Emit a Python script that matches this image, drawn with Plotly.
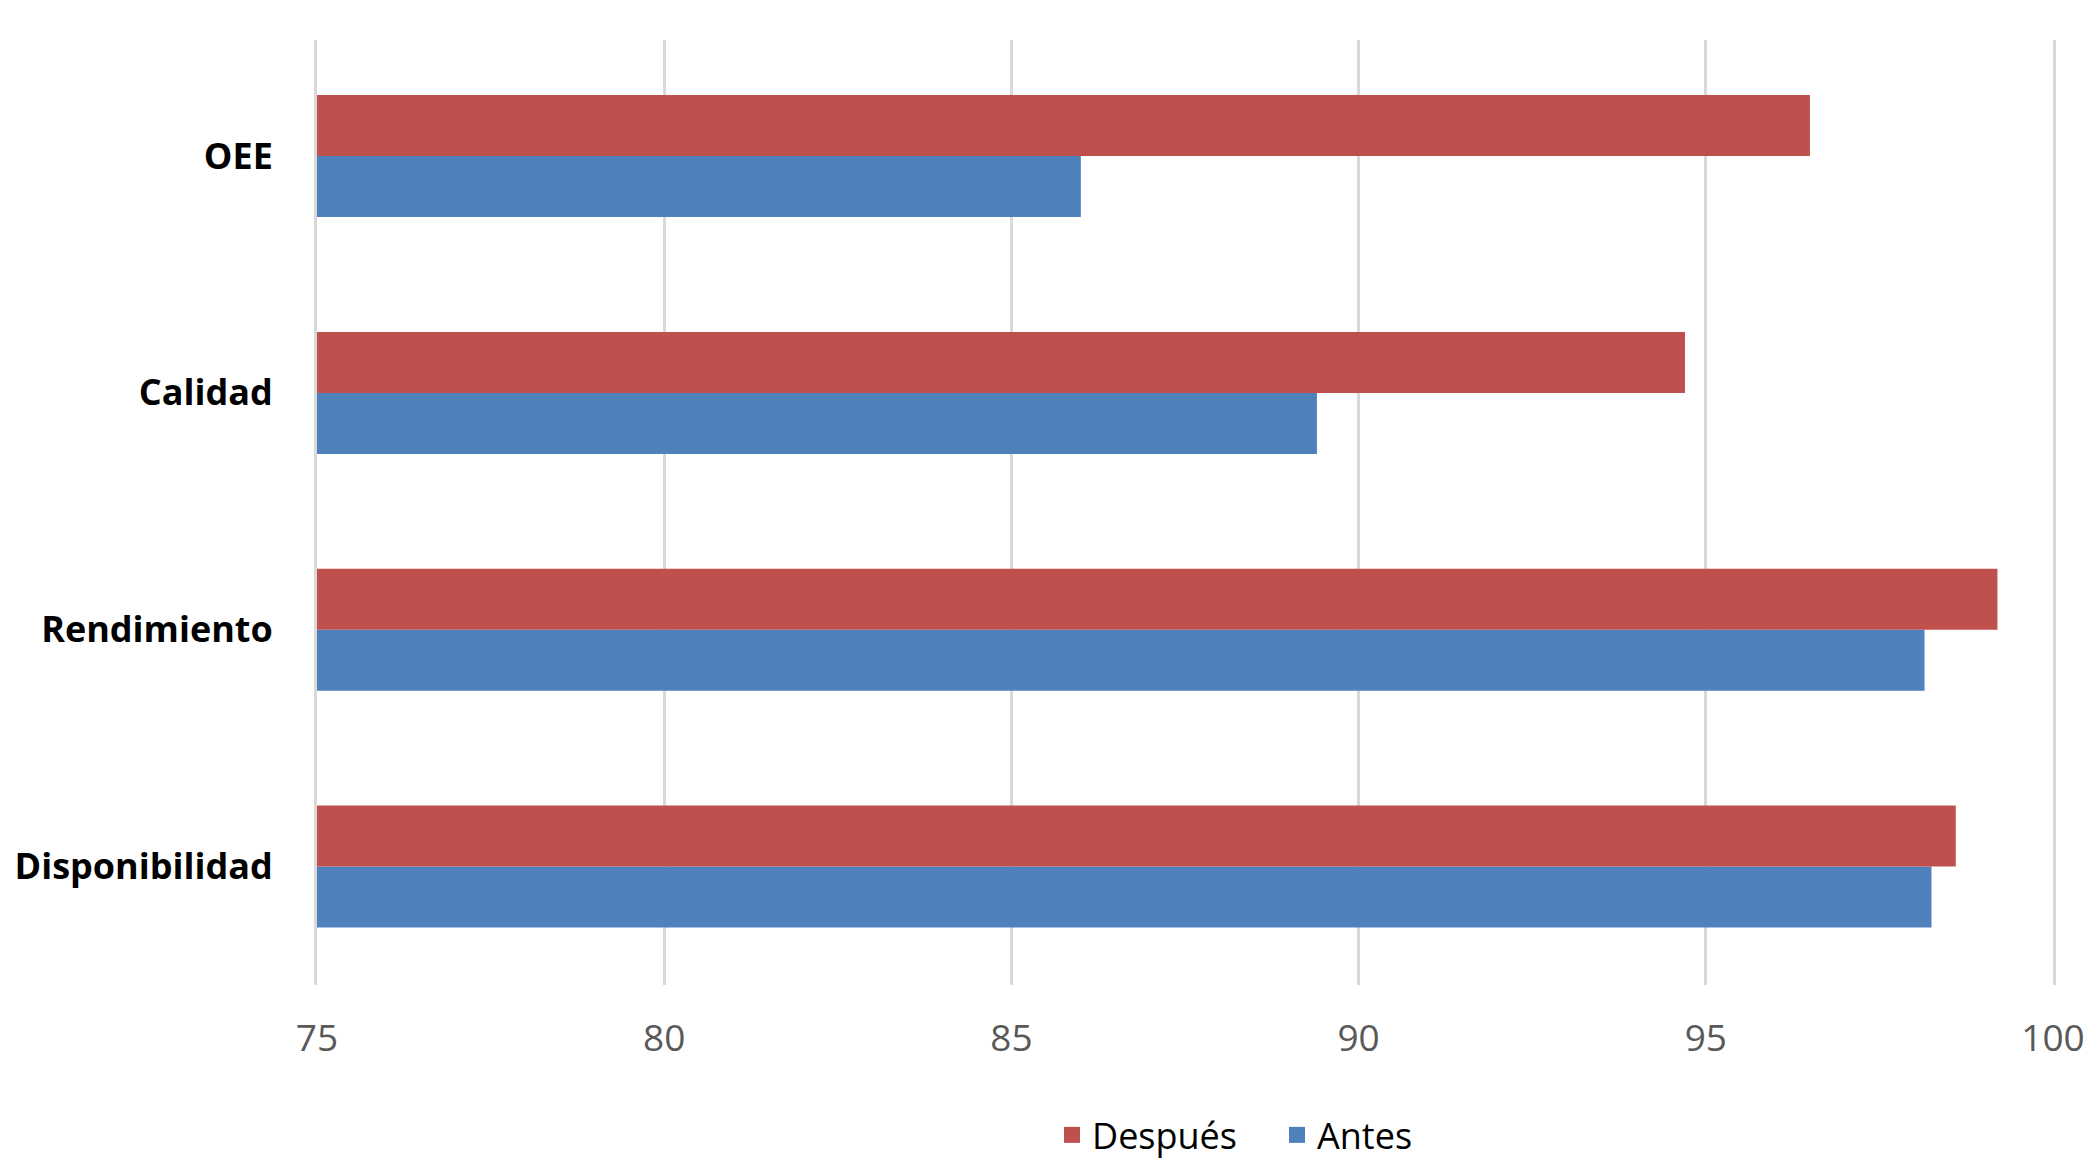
import plotly.graph_objects as go

# Data (categories listed bottom-to-top as plotted)
categories = ["Disponibilidad", "Rendimiento", "Calidad", "OEE"]
antes = [98.25, 98.15, 89.4, 86.0]
despues = [98.6, 99.2, 94.7, 96.5]
x_ticks = [75, 80, 85, 90, 95, 100]

RED = "#C0504D"
BLUE = "#4F81BD"
GRID = "#D9D9D9"
FONT = "Open Sans"

fig = go.Figure()
fig.add_trace(go.Bar(y=categories, x=antes, orientation="h", name="Antes",
                     marker=dict(color=BLUE, line=dict(width=0)), showlegend=False))
fig.add_trace(go.Bar(y=categories, x=despues, orientation="h", name="Después",
                     marker=dict(color=RED, line=dict(width=0)), showlegend=False))
# legend entries (square markers)
fig.add_trace(go.Scatter(x=[None], y=[None], mode="markers", name="Después",
                         marker=dict(symbol="square", size=25, color=RED)))
fig.add_trace(go.Scatter(x=[None], y=[None], mode="markers", name="Antes",
                         marker=dict(symbol="square", size=25, color=BLUE)))

fig.update_layout(
    width=2090, height=1162,
    margin=dict(l=317, r=37, t=40, b=177, autoexpand=False),
    paper_bgcolor="white", plot_bgcolor="white",
    barmode="group", bargap=0.485, bargroupgap=0,
    font=dict(family=FONT, color="#000000"),
    legend=dict(orientation="h", x=0.553, xanchor="center", y=-0.1587, yanchor="middle",
                font=dict(size=36, color="#000000", family=FONT),
                itemsizing="trace", traceorder="normal", entrywidth=180),
    xaxis=dict(range=[75, 100], tickvals=x_ticks, ticktext=[str(v) for v in x_ticks],
               showgrid=True, gridcolor=GRID, gridwidth=3,
               zeroline=False, showline=False, ticks="",
               tickfont=dict(size=37, color="#595959", family=FONT),
               ticklabelstandoff=28, fixedrange=True),
    yaxis=dict(categoryorder="array", categoryarray=categories, range=[-0.5, 3.49],
               showgrid=False, zeroline=False,
               showline=True, mirror=True, linecolor=GRID, linewidth=3, ticks="",
               tickfont=dict(size=36, color="#000000", family=FONT, weight="bold"),
               ticklabelstandoff=34, fixedrange=True),
)

fig.write_html("out.html")
